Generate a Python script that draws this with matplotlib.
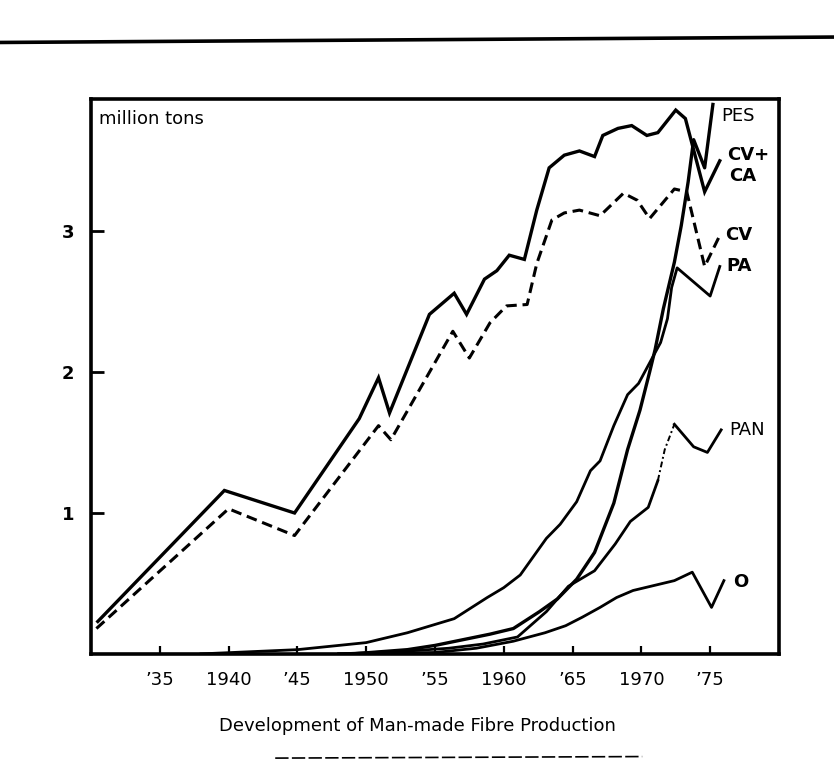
import matplotlib
matplotlib.use("Agg")
import matplotlib.pyplot as plt
from matplotlib.lines import Line2D

# ---- data ----
cvca_years = [1930.5, 1939.7, 1944.8, 1949.5, 1950.9, 1951.7, 1954.6, 1956.4, 1957.3, 1958.6, 1959.5,
              1960.4, 1961.5, 1962.4, 1963.3, 1964.4, 1965.5, 1966.6, 1967.2, 1968.3, 1969.3, 1970.4,
              1971.2, 1972.5, 1973.2, 1974.6, 1975.7]
cvca_vals = [0.23, 1.16, 1.00, 1.67, 1.96, 1.71, 2.41, 2.56, 2.41, 2.66, 2.72,
             2.83, 2.80, 3.15, 3.45, 3.54, 3.57, 3.53, 3.68, 3.73, 3.75, 3.68,
             3.70, 3.86, 3.80, 3.28, 3.50]

cv_years = [1930.4, 1940.0, 1944.8, 1950.9, 1951.8, 1956.3, 1957.5, 1959.0, 1960.2, 1961.7, 1962.4,
            1963.5, 1964.4, 1965.5, 1967.0, 1968.7, 1969.7, 1970.6, 1972.4, 1973.3, 1974.6, 1975.7]
cv_vals = [0.18, 1.03, 0.84, 1.62, 1.52, 2.29, 2.10, 2.35, 2.47, 2.48, 2.77,
           3.08, 3.13, 3.15, 3.11, 3.27, 3.22, 3.09, 3.30, 3.28, 2.75, 2.97]

pes_years = [1949.0, 1953.0, 1955.0, 1959.0, 1960.7, 1962.6, 1963.9, 1965.3, 1966.6, 1968.0, 1969.0,
             1969.9, 1970.6, 1971.0, 1971.6, 1972.4, 1972.9, 1973.4, 1973.8, 1974.6, 1975.2]
pes_vals = [0.00, 0.03, 0.06, 0.14, 0.18, 0.30, 0.39, 0.53, 0.72, 1.07, 1.45,
            1.73, 2.00, 2.16, 2.45, 2.78, 3.04, 3.35, 3.65, 3.45, 3.90]

pa_years = [1938.0, 1945.0, 1950.0, 1953.0, 1956.4, 1958.8, 1960.0, 1961.2, 1963.1, 1964.1, 1965.3,
            1966.3, 1967.0, 1968.0, 1969.0, 1969.8, 1970.9, 1971.4, 1971.9, 1972.2, 1972.6, 1975.0, 1975.7]
pa_vals = [0.00, 0.03, 0.08, 0.15, 0.25, 0.40, 0.47, 0.56, 0.82, 0.92, 1.08,
           1.30, 1.37, 1.62, 1.84, 1.92, 2.12, 2.21, 2.38, 2.60, 2.74, 2.54, 2.75]

pan_years = [1948.0, 1953.0, 1956.0, 1958.5, 1961.0, 1963.1, 1964.7, 1966.6, 1968.1, 1969.2, 1970.5,
             1971.2, 1971.7, 1972.4, 1973.8, 1974.8, 1975.8]
pan_vals = [0.00, 0.02, 0.04, 0.07, 0.12, 0.30, 0.48, 0.59, 0.78, 0.94, 1.04,
            1.23, 1.45, 1.63, 1.47, 1.43, 1.59]

o_years = [1948.0, 1955.0, 1958.0, 1960.7, 1963.0, 1964.5, 1965.7, 1967.0, 1968.2, 1969.4,
           1972.4, 1973.7, 1975.1, 1976.0]
o_vals = [0.00, 0.01, 0.04, 0.09, 0.15, 0.20, 0.26, 0.33, 0.40, 0.45,
          0.52, 0.58, 0.33, 0.52]

x_ticks = [1935, 1940, 1945, 1950, 1955, 1960, 1965, 1970, 1975]
x_tick_labels = ["\u201935", "1940", "\u201945", "1950", "\u201955", "1960", "\u201965", "1970", "\u201975"]
y_ticks = [1, 2, 3]
y_tick_labels = ["1", "2", "3"]

series_labels = ["PES", "CV+", "CA", "CV", "PA", "PAN", "O"]
label_x = [1975.8, 1976.2, 1976.4, 1976.1, 1976.2, 1976.4, 1976.7]
label_y = [3.82, 3.54, 3.39, 2.97, 2.75, 1.59, 0.51]
label_weight = ['normal', 'bold', 'bold', 'bold', 'bold', 'normal', 'bold']

# ---- figure ----
plt.rcParams['font.family'] = ['DejaVu Sans']
fig = plt.figure(figsize=(8.34, 7.72), dpi=100)
ax = fig.add_axes([0.109, 0.153, 0.825, 0.719])
ax.set_xlim(1930, 1980)
ax.set_ylim(0, 3.94)

k = 'black'
ax.plot(cvca_years, cvca_vals, color=k, lw=2.4, solid_joinstyle='miter')
ax.plot(cv_years, cv_vals, color=k, lw=2.2, linestyle=(0, (3.5, 1.9)))
ax.plot(pes_years, pes_vals, color=k, lw=2.4)
ax.plot(pa_years, pa_vals, color=k, lw=2.0)
# PAN: solid, with a thin dash-dot stretch near its peak
pan_split1 = 11
pan_split2 = 13
ax.plot(pan_years[:pan_split1 + 1], pan_vals[:pan_split1 + 1], color=k, lw=2.0)
ax.plot(pan_years[pan_split1:pan_split2 + 1], pan_vals[pan_split1:pan_split2 + 1],
        color=k, lw=1.4, linestyle=(0, (3, 1.5, 1, 1.5)))
ax.plot(pan_years[pan_split2:], pan_vals[pan_split2:], color=k, lw=2.0)
ax.plot(o_years, o_vals, color=k, lw=2.0)

for s, lx, ly, w in zip(series_labels, label_x, label_y, label_weight):
    ax.text(lx, ly, s, ha='left', va='center', fontsize=13, fontweight=w, color=k)

ax.text(1930.6, 3.80, "million tons", ha='left', va='center', fontsize=13, color=k)

for sp in ax.spines.values():
    sp.set_linewidth(2.6)
    sp.set_color(k)

ax.set_xticks(x_ticks)
ax.set_xticklabels(x_tick_labels, fontsize=13)
ax.set_yticks(y_ticks)
ax.set_yticklabels(y_tick_labels, fontsize=13, fontweight='bold')
ax.tick_params(axis='x', direction='in', length=6, width=1.6, pad=12)
ax.tick_params(axis='y', direction='in', length=9, width=2.0, pad=12)

fig.text(0.5, 0.06, "Development of Man-made Fibre Production", ha='center', va='center',
         fontsize=13, color=k)

# scan decorations: page rule on top and underline below the caption
fig.add_artist(Line2D([0.0, 1.0], [0.945, 0.952], color=k, lw=2.6, transform=fig.transFigure))
fig.add_artist(Line2D([0.33, 0.77], [0.018, 0.020], color=k, lw=1.2, linestyle=(0, (8, 2)),
                      transform=fig.transFigure))

fig.savefig("out.png", dpi=100)
